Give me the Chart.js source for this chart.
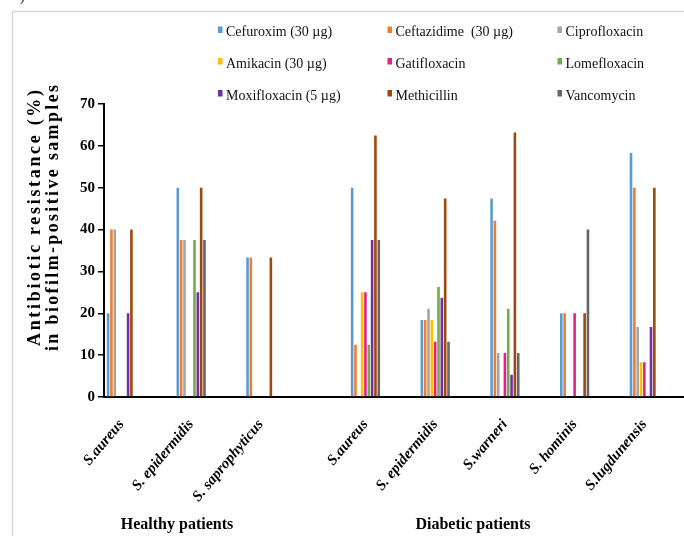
<!DOCTYPE html>
<html><head><meta charset="utf-8">
<script src="https://cdn.jsdelivr.net/npm/chart.js@4"></script>
<style>html,body{margin:0;padding:0;background:#fff;overflow:hidden;width:684px;height:536px}canvas{display:block}</style>
</head><body><canvas id="c" width="712" height="536"></canvas>
<script>
// ---- data ----
const categories = ['S.aureus','S. epidermidis','S. saprophyticus','S.aureus','S. epidermidis','S.warneri','S. hominis','S.lugdunensis'];
const groupNames = ['Healthy patients','Diabetic patients'];
const seriesNames = ['Cefuroxim (30 µg)','Ceftazidime  (30 µg)','Ciprofloxacin','Amikacin (30 µg)','Gatifloxacin','Lomefloxacin','Moxifloxacin (5 µg)','Methicillin','Vancomycin'];
const cefuroxim    = [20, 50,   33.3, 50,   18.4, 47.4, 20, 58.3];
const ceftazidime  = [40, 37.5, 33.3, 12.5, 18.4, 42.1, 20, 50];
const ciprofloxacin= [40, 37.5, 0,    0,    21.1, 10.5, 0,  16.7];
const amikacin     = [0,  0,    0,    25,   18.4, 0,    0,  8.3];
const gatifloxacin = [0,  0,    0,    25,   13.2, 10.5, 20, 8.3];
const lomefloxacin = [0,  37.5, 0,    12.5, 26.3, 21.1, 0,  0];
const moxifloxacin = [20, 25,   0,    37.5, 23.7, 5.3,  0,  16.7];
const methicillin  = [40, 50,   33.3, 62.5, 47.4, 63.2, 20, 50];
const vancomycin   = [0,  37.5, 0,    37.5, 13.2, 10.5, 40, 0];
const yTicks = [0,10,20,30,40,50,60,70];
const yTitle = ['Antibiotic resistance (%)','in biofilm-positive samples'];

// ---- layout / style ----
const colors = ['#5B9BD5','#ED7D31','#A5A5A5','#FFC000','#E0218A','#70AD47','#7030A0','#9E480E','#666666'];
const slotCount = 17;
const slots = [0,2,4,7,9,11,13,15];
const series = [cefuroxim,ceftazidime,ciprofloxacin,amikacin,gatifloxacin,lomefloxacin,moxifloxacin,methicillin,vancomycin];

const labels = new Array(slotCount).fill('');
slots.forEach((s,i)=>labels[s]=categories[i]);
function pad(arr){const out=new Array(slotCount).fill(null);slots.forEach((s,i)=>out[s]=arr[i]);return out;}

const datasets = series.map((arr,i)=>({
  label: seriesNames[i], data: pad(arr), backgroundColor: colors[i],
  barPercentage: 0.78, categoryPercentage: 0.86, borderWidth: 0
}));

const SERIF = '"Liberation Serif","Times New Roman",serif';

function spacedText(ctx, text, cx, cy, target){
  ctx.letterSpacing='0px';
  const w = ctx.measureText(text).width;
  const sp = Math.max(0,(target-w)/(text.length-1));
  ctx.letterSpacing = sp+'px';
  const w2 = ctx.measureText(text).width;
  ctx.textAlign='left';
  ctx.fillText(text, cx - (w2 - sp)/2, cy);
  ctx.letterSpacing='0px';
}

const decor = {
  id:'decor',
  beforeDraw(chart){
    const ctx = chart.ctx;
    ctx.save();
    ctx.fillStyle='#fff'; ctx.fillRect(0,0,chart.width,chart.height);
    ctx.strokeStyle='#d9d9d9'; ctx.lineWidth=1.5;
    ctx.beginPath(); ctx.moveTo(12.5,540); ctx.lineTo(12.5,11.5); ctx.lineTo(720,11.5); ctx.stroke();
    ctx.fillStyle='#222'; ctx.font='14px '+SERIF; ctx.textAlign='left'; ctx.textBaseline='alphabetic';
    ctx.fillText(')',20,1);
    ctx.restore();
  },
  afterDraw(chart){
    const ctx = chart.ctx;
    ctx.save();
    // legend 3x3
    const colX=[218,387.5,557.5], rowY=[31.5,63,95];
    ctx.font='14px '+SERIF; ctx.textBaseline='middle'; ctx.textAlign='left';
    chart.data.datasets.forEach((ds,i)=>{
      const cx=colX[i%3], cy=rowY[Math.floor(i/3)];
      ctx.fillStyle=ds.backgroundColor; ctx.fillRect(cx,cy-5,4.5,6.5);
      ctx.fillStyle='#111'; ctx.fillText(ds.label,cx+8,cy+1);
    });
    // y title
    ctx.font='bold 18px '+SERIF; ctx.fillStyle='#000'; ctx.textBaseline='middle';
    [[35,yTitle[0],256],[53,yTitle[1],266]].forEach(([x,t,len])=>{
      ctx.save(); ctx.translate(x,218); ctx.rotate(-Math.PI/2); spacedText(ctx,t,0,0,len); ctx.restore();
    });
    // group labels
    ctx.font='bold 16px '+SERIF; ctx.textAlign='center'; ctx.textBaseline='middle';
    ctx.fillText(groupNames[0],177,525);
    ctx.fillText(groupNames[1],473,525);
    ctx.restore();
  }
};

new Chart(document.getElementById('c'),{
  type:'bar',
  data:{labels, datasets},
  options:{
    responsive:false, animation:false, devicePixelRatio:1,
    layout:{padding:{top:104,left:0,right:0,bottom:0}},
    plugins:{legend:{display:false}, tooltip:{enabled:false}},
    scales:{
      x:{
        grid:{display:true,drawOnChartArea:false,drawTicks:false},
        border:{display:true,color:'#000',width:2},
        ticks:{autoSkip:false,minRotation:50,maxRotation:50,padding:19,color:'#000',
          font:{family:SERIF,size:15,weight:'bold',style:'italic'}},
        afterFit(s){s.height=139;}
      },
      y:{
        min:0,max:70,
        afterBuildTicks(s){s.ticks=yTicks.map(v=>({value:v}));},
        grid:{display:true,drawOnChartArea:false,drawTicks:true,tickLength:6,color:'#000',lineWidth:1.5},
        border:{display:true,color:'#000',width:2},
        ticks:{padding:3,color:'#000',font:{family:SERIF,size:15,weight:'bold'}},
        afterFit(s){s.width=104;}
      }
    }
  },
  plugins:[decor]
});
</script>
</body></html>
